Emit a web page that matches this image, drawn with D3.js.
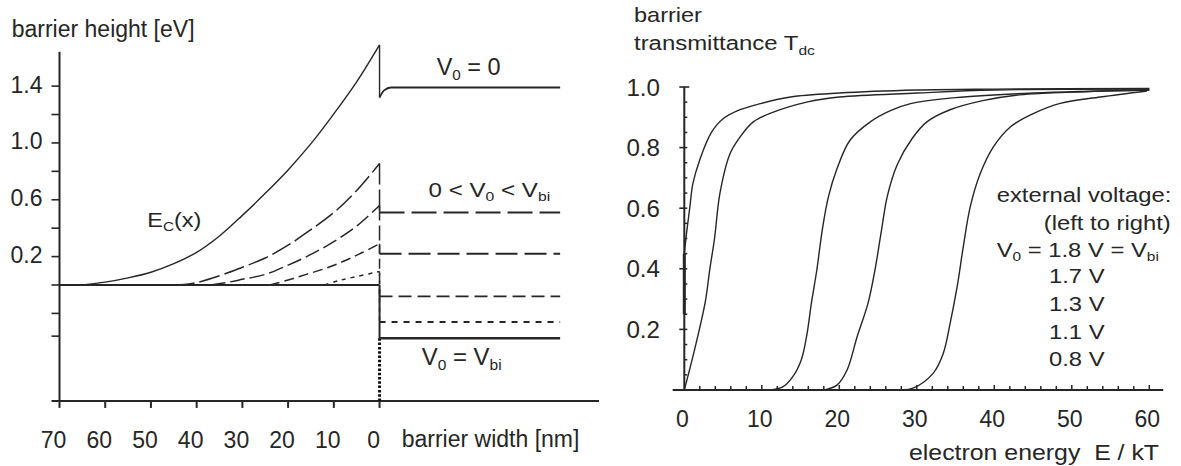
<!DOCTYPE html>
<html>
<head>
<meta charset="utf-8">
<script src="https://cdn.jsdelivr.net/npm/d3@7"></script>
<style>
  body { margin: 0; background: #fff; }
  svg { display: block; font-family: "Liberation Sans", Arial, sans-serif; }
</style>
</head>
<body>
<svg id="chart" width="1181" height="466"></svg>
<script>
// ---- left panel: band diagram (barrier width in nm, energy in eV) ----
const leftXTicks = [70, 60, 50, 40, 30, 20, 10, 0];
const leftYTicks = [1.4, 1.2, 1.0, 0.8, 0.6, 0.4, 0.2, 0, -0.2, -0.36];
const leftYLabels = [1.4, 1.0, 0.6, 0.2];

// each band: rising part left of the junction, then the level right of it
const bandV0Left = [[65, 0], [60, 0.02], [55, 0.05], [50, 0.09], [45, 0.15], [40, 0.23], [35, 0.345], [30, 0.49], [25, 0.645], [20, 0.81], [15, 0.995], [10, 1.205], [5, 1.43], [0, 1.69]];
const bandV0Right = [[0, 1.32], [-1, 1.37], [-2.5, 1.39], [-39.5, 1.39]];
const band1Left = [[45, 0], [41, 0.01], [35, 0.065], [30, 0.125], [25, 0.19], [20, 0.28], [15, 0.39], [10, 0.51], [5, 0.665], [0, 0.855]];
const band1Right = [[0, 0.51], [-39.5, 0.51]];
const band2Left = [[37, 0], [33, 0.02], [30, 0.04], [25, 0.075], [20, 0.14], [15, 0.215], [10, 0.305], [5, 0.415], [0, 0.56]];
const band2Right = [[0, 0.22], [-39.5, 0.22]];
const band3Left = [[24, 0], [20, 0.035], [16, 0.075], [12, 0.115], [8, 0.165], [4, 0.225], [0, 0.29]];
const band3Right = [[0, -0.08], [-39.5, -0.08]];
const band4Left = [[12, 0], [9, 0.03], [5, 0.06], [0, 0.095]];
const band4Right = [[0, -0.26], [-39.5, -0.26]];
const bandVbiLeft = [[70, 0], [0, 0]];
const bandVbiRight = [[0, -0.375], [-39.5, -0.375]];

// ---- right panel: transmittance vs E/kT ----
const rightXTicks = [0, 10, 20, 30, 40, 50, 60];
const rightYTicks = [0.2, 0.4, 0.6, 0.8, 1.0];
const t18Stem = [[0, 0.25], [0, 0.45]];
const t18 = [[0, 0.45], [0.3, 0.52], [0.7, 0.6], [1.1, 0.68], [2, 0.76], [3.5, 0.85], [5, 0.895], [7.2, 0.925], [9.8, 0.945], [13.7, 0.967], [20, 0.98], [30, 0.99], [40, 0.993], [60, 0.995]];
const t17 = [[0, 0], [1.2, 0.12], [2.7, 0.29], [3.3, 0.4], [3.9, 0.5], [4.6, 0.65], [5.9, 0.78], [7.2, 0.835], [8.9, 0.885], [11.5, 0.917], [15.8, 0.95], [20, 0.967], [30, 0.98], [40, 0.99], [60, 0.993]];
const t13 = [[11, 0], [12.7, 0.01], [14, 0.044], [15.1, 0.1], [15.8, 0.18], [16.4, 0.287], [17.1, 0.396], [17.8, 0.528], [18.6, 0.638], [19.7, 0.73], [21.4, 0.825], [24, 0.885], [26.6, 0.922], [29.2, 0.945], [35, 0.965], [45, 0.98], [60, 0.99]];
const t11 = [[18, 0], [19.7, 0.016], [21, 0.066], [22.3, 0.176], [23.7, 0.286], [24.6, 0.396], [25.4, 0.52], [26.2, 0.64], [27.5, 0.745], [29.4, 0.83], [31.3, 0.885], [34.3, 0.925], [38.5, 0.955], [42.8, 0.973], [50, 0.983], [60, 0.99]];
const t08 = [[28, 0], [29.6, 0.007], [32.1, 0.055], [33.4, 0.12], [34.3, 0.22], [35.2, 0.34], [36, 0.473], [36.9, 0.605], [38.2, 0.715], [39.9, 0.803], [42.1, 0.869], [45.1, 0.913], [48.5, 0.946], [53.7, 0.967], [59.7, 0.987]];
const legendLines = ["1.7 V", "1.3 V", "1.1 V", "0.8 V"];

const ink = "#262626";
const svg = d3.select("#chart");

// text with optional subscripts, squeezed/stretched horizontally by sx
function label(x, y, parts, size, sx = 1, anchor = "start") {
    const t = svg.append("text")
        .attr("transform", `translate(${x},${y}) scale(${sx},1)`)
        .attr("text-anchor", anchor)
        .attr("font-size", size)
        .attr("fill", ink);
    let shifted = false;
    parts.forEach(p => {
        const sub = Array.isArray(p);
        const s = t.append("tspan").text(sub ? p[0] : p);
        if (sub && !shifted) { s.attr("font-size", size * 0.65).attr("dy", size * 0.22); shifted = true; }
        else if (!sub && shifted) { s.attr("dy", -size * 0.22); shifted = false; }
        else if (sub) s.attr("font-size", size * 0.65);
    });
    return t;
}

// ================= left panel =================
const xL = d3.scaleLinear().domain([70, -48]).range([59.5, 599]);
const yL = d3.scaleLinear().domain([0, 1.4]).range([285, 86.1]);
const yLBottom = -0.816, yLTop = 1.642;

const lineL = d3.line().x(d => xL(d[0])).y(d => yL(d[1]));

// axes
svg.append("line").attr("x1", xL(70)).attr("x2", xL(70))
    .attr("y1", yL(yLTop)).attr("y2", yL(yLBottom) + 1)
    .attr("stroke", ink).attr("stroke-width", 2);
svg.append("line").attr("x1", xL(70) - 8).attr("x2", xL(-48))
    .attr("y1", yL(yLBottom)).attr("y2", yL(yLBottom))
    .attr("stroke", ink).attr("stroke-width", 2);
svg.selectAll(".ltx").data(leftXTicks).enter().append("line")
    .attr("x1", d => xL(d)).attr("x2", d => xL(d))
    .attr("y1", yL(yLBottom)).attr("y2", yL(yLBottom) + 7)
    .attr("stroke", ink).attr("stroke-width", 2);
svg.selectAll(".lty").data(leftYTicks).enter().append("line")
    .attr("x1", xL(70) - 8).attr("x2", xL(70))
    .attr("y1", d => yL(d)).attr("y2", d => yL(d))
    .attr("stroke", ink).attr("stroke-width", 1.6);
leftXTicks.forEach(d => label(xL(d) - 6, 448, [String(d)], 23, 1, "middle"));
leftYLabels.forEach(d => label(42.5, yL(d) + 6.5, [d.toFixed(1)], 23, 1, "end"));

// vertical dotted reference at the junction
svg.append("line").attr("x1", xL(0)).attr("x2", xL(0))
    .attr("y1", yL(-0.375)).attr("y2", yL(yLBottom))
    .attr("stroke", "#111").attr("stroke-width", 3).attr("stroke-dasharray", "2.5,1.8");

// bands
const bands = [
    { left: bandV0Left, right: bandV0Right, dashL: null, dashR: null, w: 1.4 },
    { left: band1Left, right: band1Right, dashL: "21,5", dashR: "25,7", w: 1.5 },
    { left: band2Left, right: band2Right, dashL: "15,5", dashR: "22,7", w: 1.5 },
    { left: band3Left, right: band3Right, dashL: "10,5", dashR: "13,6", w: 1.5 },
    { left: band4Left, right: band4Right, dashL: "4,5", dashR: "6,6", w: 1.5 },
    { left: bandVbiLeft, right: bandVbiRight, dashL: null, dashR: null, w: 2 }
];
const smoothL = d3.line().x(d => xL(d[0])).y(d => yL(d[1])).curve(d3.curveCatmullRom.alpha(0.5));
const flatL = d3.line().x(d => xL(d[0])).y(d => yL(d[1])).curve(d3.curveMonotoneX);
bands.forEach(b => {
    const peak = b.left[b.left.length - 1];
    const drop = b.right[0];
    svg.append("path").attr("d", smoothL(b.left))
        .attr("fill", "none").attr("stroke", ink).attr("stroke-width", b.w)
        .attr("stroke-dasharray", b.dashL);
    svg.append("path").attr("d", lineL([peak, drop]))
        .attr("fill", "none").attr("stroke", ink).attr("stroke-width", b.w)
        .attr("stroke-dasharray", b.dashL);
    svg.append("path").attr("d", flatL(b.right))
        .attr("fill", "none").attr("stroke", ink).attr("stroke-width", b.w + 0.4)
        .attr("stroke-dasharray", b.dashR);
});

// left labels
label(11.7, 37.3, ["barrier height [eV]"], 23);
label(401.7, 446.7, ["barrier width [nm]"], 23);
label(147.3, 226.7, ["E", ["C"], "(x)"], 21, 1.12);
label(436.7, 75, ["V", ["0"], " = 0"], 23, 1.02);
label(428.6, 196.7, ["0 < V", ["0"], " < V", ["bi"]], 21, 1.15);
label(421.7, 365, ["V", ["0"], " = V", ["bi"]], 23, 1.04);

// ================= right panel =================
const xR = d3.scaleLinear().domain([0, 60]).range([684.3, 1149.3]);
const yR = d3.scaleLinear().domain([0, 1]).range([390, 87]);

svg.append("line").attr("x1", xR(0)).attr("x2", xR(0))
    .attr("y1", yR(1)).attr("y2", yR(0) + 1)
    .attr("stroke", ink).attr("stroke-width", 2);
svg.append("line").attr("x1", xR(-1.5)).attr("x2", xR(61.8))
    .attr("y1", yR(0)).attr("y2", yR(0))
    .attr("stroke", ink).attr("stroke-width", 2);

// minor ticks inside, majors outside
const xMinor = d3.range(2, 61, 2);
svg.selectAll(".rxm").data(xMinor).enter().append("line")
    .attr("x1", d => xR(d)).attr("x2", d => xR(d))
    .attr("y1", yR(0)).attr("y2", d => yR(0) - (d % 10 === 0 ? 5 : 4))
    .attr("stroke", ink).attr("stroke-width", 1.5);
const yMinor = d3.range(0.05, 1.0, 0.05);
svg.selectAll(".rym").data(yMinor).enter().append("line")
    .attr("x1", xR(0)).attr("x2", xR(0) + 3)
    .attr("y1", d => yR(d)).attr("y2", d => yR(d))
    .attr("stroke", ink).attr("stroke-width", 1.5);
svg.selectAll(".ryt").data(rightYTicks).enter().append("line")
    .attr("x1", xR(0) - 5).attr("x2", d => xR(0) + (d === 1 ? 5 : 0))
    .attr("y1", d => yR(d)).attr("y2", d => yR(d))
    .attr("stroke", ink).attr("stroke-width", 1.6);
rightXTicks.forEach(d => label(xR(d) - 2, 426.7, [String(d)], 23, 1, "middle"));
rightYTicks.forEach(d => label(660, yR(d) + 8.5, [d.toFixed(1)], 23, 1.05, "end"));

// transmittance curves
const smoothR = d3.line().x(d => xR(d[0])).y(d => yR(d[1])).curve(d3.curveCatmullRom.alpha(0.5));
[t18Stem, t18, t17, t13, t11, t08].forEach((c, i) => {
    svg.append("path").attr("d", smoothR(c))
        .attr("fill", "none").attr("stroke", ink)
        .attr("stroke-width", i === 0 ? 3 : 1.4);
});

// right labels
label(634, 21.7, ["barrier"], 21, 1.12);
label(634, 50, ["transmittance T", ["dc"]], 21, 1.14);
label(909, 459.5, ["electron energy\u00a0\u00a0E / kT"], 22, 1.13);
label(996.7, 201.7, ["external voltage:"], 20, 1.19);
label(1170.7, 230, ["(left to right)"], 20, 1.19, "end");
label(996.7, 256.7, ["V", ["0"], " = 1.8 V = V", ["bi"]], 20, 1.19);
legendLines.forEach((t, i) => label(1049, 283.3 + i * 27.6, [t], 20, 1.19));
</script>
</body>
</html>
